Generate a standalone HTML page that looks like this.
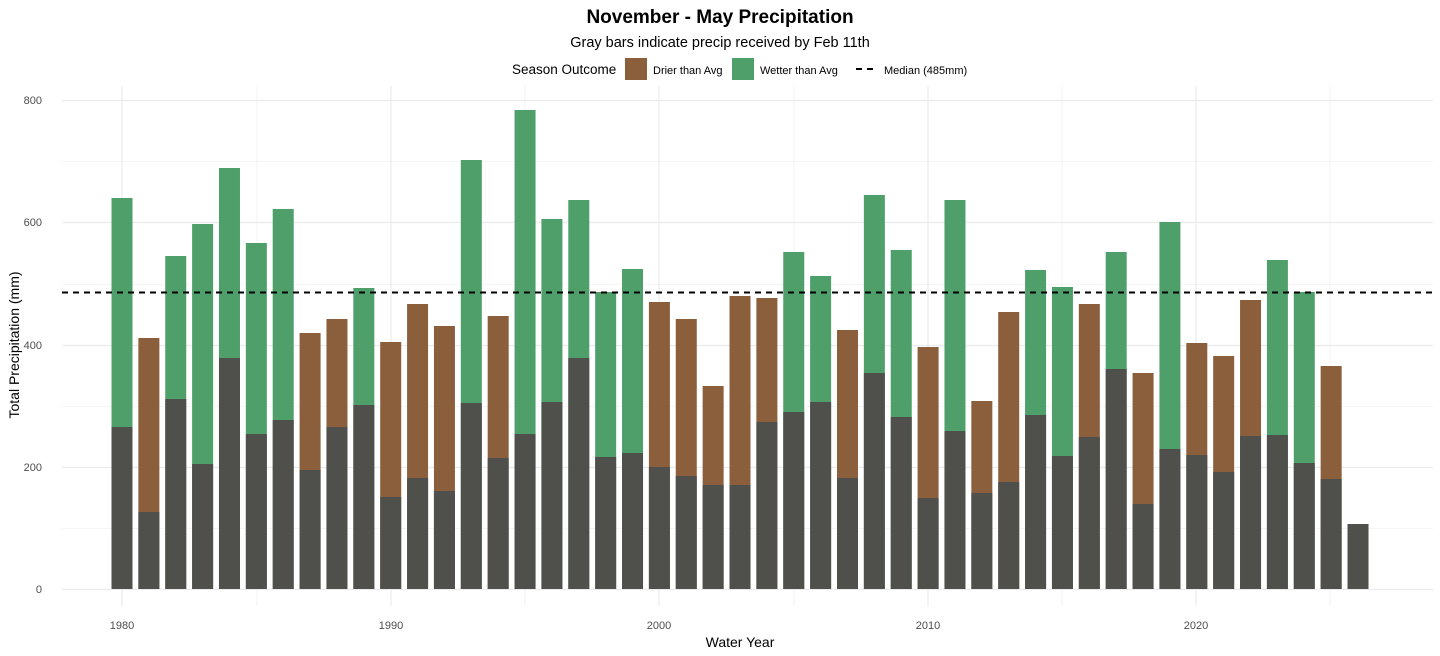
<!DOCTYPE html>
<html><head><meta charset="utf-8"><style>
body{margin:0;background:#fff;}
svg{display:block;font-family:"Liberation Sans",sans-serif;}
</style></head><body>
<svg id="s" width="1440" height="656" viewBox="0 0 1440 656" xmlns="http://www.w3.org/2000/svg">
<rect width="1440" height="656" fill="#fff"/>
<g id="grid" stroke="#ebebeb"></g>
<g id="bars"></g>
<line x1="62" x2="1433" y1="292.5" y2="292.5" stroke="#000" stroke-width="2" stroke-dasharray="6,5"/>
<text x="720" y="23" text-anchor="middle" font-size="19" font-weight="bold">November - May Precipitation</text>
<text x="720" y="47" text-anchor="middle" font-size="14.5">Gray bars indicate precip received by Feb 11th</text>
<text x="512" y="74" font-size="13.5">Season Outcome</text>
<rect x="625" y="58" width="22" height="22" fill="#8b5e3c"/>
<text x="653" y="74" font-size="11">Drier than Avg</text>
<rect x="732" y="58" width="22" height="22" fill="#4e9f6a"/>
<text x="760" y="74" font-size="11">Wetter than Avg</text>
<line x1="856" x2="878" y1="69" y2="69" stroke="#000" stroke-width="2" stroke-dasharray="6,5"/>
<text x="884" y="74" font-size="11">Median (485mm)</text>
<g font-size="11" fill="#4d4d4d" text-anchor="end">
<text x="42" y="593">0</text><text x="42" y="471">200</text><text x="42" y="349">400</text><text x="42" y="226">600</text><text x="42" y="104">800</text>
</g>
<g font-size="11" fill="#4d4d4d" text-anchor="middle">
<text x="122" y="629">1980</text><text x="391" y="629">1990</text><text x="659" y="629">2000</text><text x="928" y="629">2010</text><text x="1196" y="629">2020</text>
</g>
<text x="740" y="647" text-anchor="middle" font-size="14">Water Year</text>
<text transform="translate(19,345) rotate(-90)" text-anchor="middle" font-size="14">Total Precipitation (mm)</text>
</svg>
<script>
var d=[[198,427],[338,512],[256,399],[224,464],[168,358],[243,434],[209,420],[333,470],[319,427],[288,405],[342,497],[304,478],[326,491],[160,403],[316,458],[110,434],[219,402],[200,358],[292,457],[269,453],[302,467],[319,476],[386,485],[296,485],[298,422],[252,412],[276,402],[330,478],[195,373],[250,417],[347,498],[200,431],[401,493],[312,482],[270,415],[287,456],[304,437],[252,369],[373,504],[222,449],[343,455],[356,472],[300,436],[260,435],[292,463],[366,479],[null,524]];
var ns="http://www.w3.org/2000/svg",g=document.getElementById('grid'),b=document.getElementById('bars');
function el(p,t,a){var e=document.createElementNS(ns,t);for(var k in a)e.setAttribute(k,a[k]);p.appendChild(e);}
[100,222,345,467,589].forEach(function(y){el(g,'line',{x1:62,x2:1433,y1:y+.5,y2:y+.5,'stroke-width':1.2});});
[161,284,406,528].forEach(function(y){el(g,'line',{x1:62,x2:1433,y1:y+.5,y2:y+.5,'stroke-width':.6});});
[122,391,659,928,1196].forEach(function(x){el(g,'line',{x1:x,x2:x,y1:86,y2:606,'stroke-width':1.2});});
[257,525,794,1062,1330].forEach(function(x){el(g,'line',{x1:x,x2:x,y1:86,y2:606,'stroke-width':.6});});
d.forEach(function(v,i){var cx=122+i*26.87,x=cx-10.5;
if(v[0]!==null){el(b,'rect',{x:x,y:v[0],width:21,height:589-v[0],fill:v[0]<=292?'#4e9f6a':'#8b5e3c'});}
el(b,'rect',{x:x,y:v[1],width:21,height:589-v[1],fill:'#4f4f4b'});});
</script>
</body></html>
